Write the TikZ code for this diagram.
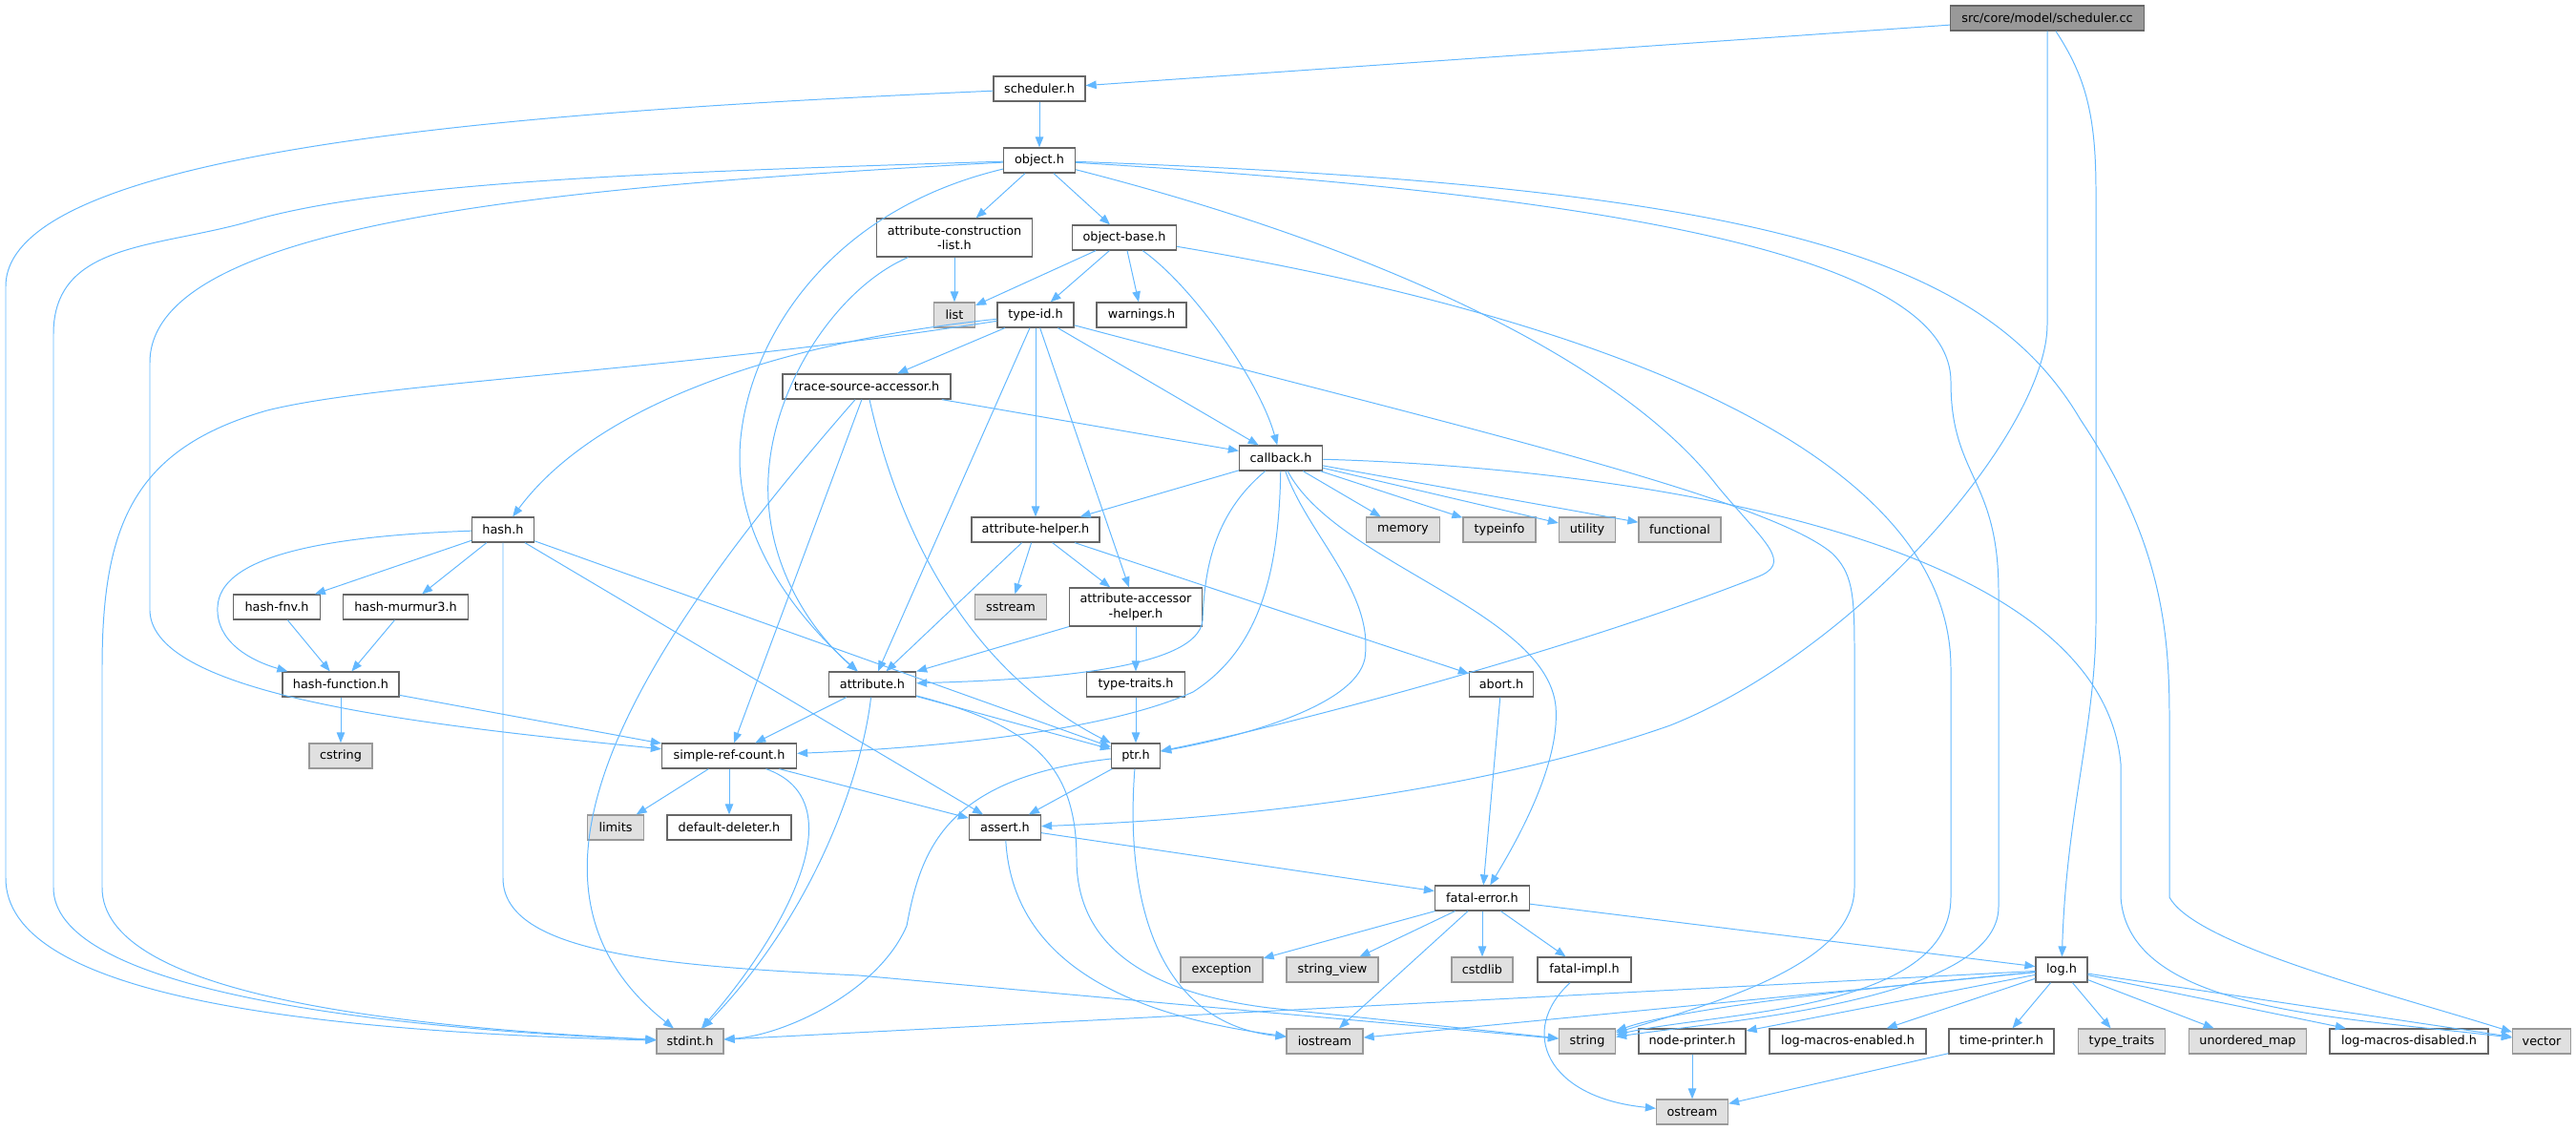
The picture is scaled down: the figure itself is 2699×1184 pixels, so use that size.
\documentclass[tikz,border=0pt]{standalone}
\usepackage{fontspec}
\setmainfont{DejaVu Sans}
\usetikzlibrary{arrows.meta}
\definecolor{linkblue}{HTML}{63B8FF}
\definecolor{boxline}{HTML}{666666}
\definecolor{sysline}{HTML}{999999}
\definecolor{sysfill}{HTML}{E0E0E0}
\definecolor{rootfill}{HTML}{999999}

\begin{document}
\begin{tikzpicture}[x=0.01cm, y=-0.01cm,
		hdr/.style={draw=boxline, fill=white, line width=0.35pt, inner sep=0pt, minimum height=0.26cm, align=center, font=\fontsize{3.65pt}{4.3pt}\selectfont},
		sys/.style={hdr, draw=sysline, fill=sysfill},
		rootbox/.style={hdr, fill=rootfill},
		tall/.style={minimum height=0.40cm},
		inc/.style={draw=linkblue, line width=0.28pt, -{Triangle[length=0.11cm, width=0.085cm]}}]
		\useasboundingbox (0,0) rectangle (2699,1184);

		\node[rootbox, minimum width=2.03cm] (root) at (2145,19) {src/core/model/scheduler.cc};
		\node[hdr, minimum width=0.96cm] (schedh) at (1089,93) {scheduler.h};
		\node[hdr, minimum width=0.75cm] (objecth) at (1089,168) {object.h};
		\node[hdr, tall, minimum width=1.63cm] (attrcons) at (1000,249) {attribute-construction\\-list.h};
		\node[hdr, minimum width=1.09cm] (objbase) at (1178,249) {object-base.h};
		\node[sys, minimum width=0.43cm] (list) at (1000,330) {list};
		\node[hdr, minimum width=0.80cm] (typeid) at (1085,330) {type-id.h};
		\node[hdr, minimum width=0.94cm] (warnings) at (1196,330) {warnings.h};
		\node[hdr, minimum width=1.76cm] (tracesrc) at (908,405) {trace-source-accessor.h};
		\node[hdr, minimum width=0.87cm] (callback) at (1342,480) {callback.h};
		\node[hdr, minimum width=0.65cm] (hash) at (527,555) {hash.h};
		\node[hdr, minimum width=1.34cm] (attrhelper) at (1085,555) {attribute-helper.h};
		\node[sys, minimum width=0.77cm] (memory) at (1470,555) {memory};
		\node[sys, minimum width=0.76cm] (typeinfo) at (1571,555) {typeinfo};
		\node[sys, minimum width=0.59cm] (utility) at (1663,555) {utility};
		\node[sys, minimum width=0.86cm] (functional) at (1760,555) {functional};
		\node[hdr, minimum width=0.91cm] (hashfnv) at (290,636) {hash-fnv.h};
		\node[hdr, minimum width=1.31cm] (murmur) at (425,636) {hash-murmur3.h};
		\node[sys, minimum width=0.75cm] (sstream) at (1059,636) {sstream};
		\node[hdr, tall, minimum width=1.39cm] (accessor) at (1190,636) {attribute-accessor\\-helper.h};
		\node[hdr, minimum width=1.22cm] (hashfunc) at (357,717) {hash-function.h};
		\node[hdr, minimum width=0.91cm] (attribute) at (914,717) {attribute.h};
		\node[hdr, minimum width=1.03cm] (typetraits) at (1190,717) {type-traits.h};
		\node[hdr, minimum width=0.67cm] (abort) at (1573,717) {abort.h};
		\node[sys, minimum width=0.66cm] (cstring) at (357,792) {cstring};
		\node[hdr, minimum width=1.41cm] (refcount) at (764,792) {simple-ref-count.h};
		\node[hdr, minimum width=0.51cm] (ptr) at (1190,792) {ptr.h};
		\node[sys, minimum width=0.59cm] (limits) at (645,867) {limits};
		\node[hdr, minimum width=1.30cm] (deleter) at (764,867) {default-deleter.h};
		\node[hdr, minimum width=0.75cm] (assert) at (1053,867) {assert.h};
		\node[hdr, minimum width=0.99cm] (fatal) at (1553,941) {fatal-error.h};
		\node[sys, minimum width=0.86cm] (exception) at (1280,1016) {exception};
		\node[sys, minimum width=0.96cm] (stringview) at (1396,1016) {string\_view};
		\node[sys, minimum width=0.64cm] (cstdlib) at (1553,1016) {cstdlib};
		\node[hdr, minimum width=0.98cm] (fatalimpl) at (1660,1016) {fatal-impl.h};
		\node[hdr, minimum width=0.54cm] (logh) at (2160,1016) {log.h};
		\node[sys, minimum width=0.70cm] (stdint) at (723,1091) {stdint.h};
		\node[sys, minimum width=0.80cm] (iostream) at (1388,1091) {iostream};
		\node[sys, minimum width=0.59cm] (string) at (1663,1091) {string};
		\node[hdr, minimum width=1.12cm] (nodeprinter) at (1773,1091) {node-printer.h};
		\node[hdr, minimum width=1.64cm] (macrosen) at (1936,1091) {log-macros-enabled.h};
		\node[hdr, minimum width=1.10cm] (timeprinter) at (2097,1091) {time-printer.h};
		\node[sys, minimum width=0.91cm] (stdtraits) at (2223,1091) {type\_traits};
		\node[sys, minimum width=1.23cm] (umap) at (2355,1091) {unordered\_map};
		\node[hdr, minimum width=1.66cm] (macrosdis) at (2524,1091) {log-macros-disabled.h};
		\node[sys, minimum width=0.61cm] (vector) at (2663,1091) {vector};
		\node[sys, minimum width=0.75cm] (ostream) at (1773,1165) {ostream};

		\draw[inc] (root) -- (schedh);
		\draw[inc] (root) -- (2145,340) .. controls (2145,450) and (1950,680) .. (1750,760) .. controls (1550,830) and (1300,858) .. (assert);
		\draw[inc] (root) .. controls (2185,80) and (2196,120) .. (2196,200) -- (2196,650) .. controls (2196,760) and (2165,850) .. (logh);

		\draw[inc] (schedh) -- (objecth);
		\draw[inc] (schedh) .. controls (600,115) and (6,150) .. (6,300) -- (6,920) .. controls (6,1040) and (300,1080) .. (stdint);

		\draw[inc] (objecth) -- (attrcons);
		\draw[inc] (objecth) -- (objbase);
		\draw[inc] (objecth) .. controls (700,180) and (400,190) .. (258,233) .. controls (160,260) and (56,255) .. (56,350) -- (56,930) .. controls (56,1030) and (350,1075) .. (stdint);
		\draw[inc] (objecth) .. controls (600,195) and (157,230) .. (157,380) -- (157,640) .. controls (160,730) and (450,760) .. (refcount);
		\draw[inc] (objecth) .. controls (850,225) and (775,380) .. (775,480) .. controls (775,580) and (850,660) .. (attribute);
		\draw[inc] (objecth) .. controls (1700,205) and (2044,270) .. (2044,400) .. controls (2044,500) and (2094,500) .. (2094,620) -- (2094,950) .. controls (2094,1050) and (1800,1070) .. (string);
		\draw[inc] (objecth) .. controls (1850,195) and (2080,270) .. (2180,440) .. controls (2260,560) and (2273,650) .. (2273,750) -- (2273,940) .. controls (2300,990) and (2500,1040) .. (vector);
		\draw[inc] (objecth) .. controls (1450,260) and (1700,380) .. (1800,510) .. controls (1850,570) and (1880,590) .. (1840,605) .. controls (1650,680) and (1350,760) .. (ptr);

		\draw[inc] (attrcons) .. controls (880,300) and (810,400) .. (805,500) .. controls (800,600) and (860,670) .. (attribute);
		\draw[inc] (attrcons) -- (list);

		\draw[inc] (objbase) -- (list);
		\draw[inc] (objbase) -- (typeid);
		\draw[inc] (objbase) -- (warnings);
		\draw[inc] (objbase) .. controls (1250,300) and (1320,400) .. (callback);
		\draw[inc] (objbase) .. controls (1600,320) and (2044,450) .. (2044,700) -- (2044,940) .. controls (2044,1060) and (1800,1060) .. (string);

		\draw[inc] (typeid) -- (tracesrc);
		\draw[inc] (typeid) .. controls (800,360) and (620,430) .. (hash);
		\draw[inc] (typeid) .. controls (700,390) and (400,400) .. (280,430) .. controls (140,470) and (107,550) .. (107,700) -- (107,930) .. controls (107,1040) and (400,1075) .. (stdint);
		\draw[inc] (typeid) -- (attribute);
		\draw[inc] (typeid) -- (attrhelper);
		\draw[inc] (typeid) -- (accessor);
		\draw[inc] (typeid) -- (callback);
		\draw[inc] (typeid) .. controls (1500,440) and (1850,520) .. (1920,580) .. controls (1940,600) and (1943,620) .. (1943,680) -- (1943,930) .. controls (1943,1010) and (1800,1050) .. (string);

		\draw[inc] (tracesrc) -- (callback);
		\draw[inc] (tracesrc) .. controls (940,550) and (1010,700) .. (ptr);
		\draw[inc] (tracesrc) -- (refcount);
		\draw[inc] (tracesrc) .. controls (650,700) and (520,930) .. (stdint);

		\draw[inc] (hash) -- (hashfnv);
		\draw[inc] (hash) -- (murmur);
		\draw[inc] (hash) .. controls (330,562) and (230,585) .. (228,636) .. controls (226,672) and (262,692) .. ([xshift=0.06cm]hashfunc.north west);
		\draw[inc] (hash) -- (assert);
		\draw[inc] (hash) -- (ptr);
		\draw[inc] (hash) -- (527,920) .. controls (527,1000) and (700,1012) .. (900,1022) -- (string);

		\draw[inc] (hashfnv) -- (hashfunc);
		\draw[inc] (murmur) -- (hashfunc);
		\draw[inc] (hashfunc) -- (cstring);
		\draw[inc] (hashfunc) -- (refcount);

		\draw[inc] (callback) -- (attrhelper);
		\draw[inc] (callback) .. controls (1270,540) and (1262,600) .. (1260,650) .. controls (1255,700) and (1100,712) .. (attribute);
		\draw[inc] (callback) .. controls (1340,600) and (1320,680) .. (1250,725) .. controls (1150,770) and (950,785) .. (refcount);
		\draw[inc] (callback) .. controls (1370,560) and (1440,620) .. (1430,690) .. controls (1420,740) and (1300,772) .. (ptr);
		\draw[inc] (callback) .. controls (1400,590) and (1620,640) .. (1630,740) .. controls (1635,800) and (1590,880) .. (fatal);
		\draw[inc] (callback) -- (memory);
		\draw[inc] (callback) -- (typeinfo);
		\draw[inc] (callback) -- (utility);
		\draw[inc] (callback) -- (functional);
		\draw[inc] (callback) .. controls (1700,490) and (2200,560) .. (2222,800) -- (2222,940) .. controls (2230,1060) and (2450,1065) .. (vector);

		\draw[inc] (attrhelper) -- (attribute);
		\draw[inc] (attrhelper) -- (sstream);
		\draw[inc] (attrhelper) -- (accessor);
		\draw[inc] (attrhelper) -- (abort);

		\draw[inc] (accessor) -- (attribute);
		\draw[inc] (accessor) -- (typetraits);
		\draw[inc] (typetraits) -- (ptr);

		\draw[inc] (attribute) -- (ptr);
		\draw[inc] (attribute) -- (refcount);
		\draw[inc] (attribute) .. controls (905,800) and (860,950) .. (stdint);
		\draw[inc] (attribute) .. controls (1080,760) and (1128,800) .. (1128,900) .. controls (1128,990) and (1200,1040) .. (1330,1056) -- (string);

		\draw[inc] (refcount) -- (limits);
		\draw[inc] (refcount) -- (deleter);
		\draw[inc] (refcount) -- (assert);
		\draw[inc] (refcount) .. controls (900,840) and (820,980) .. (stdint);

		\draw[inc] (ptr) -- (assert);
		\draw[inc] (ptr) .. controls (990,815) and (965,890) .. (950,970) .. controls (920,1040) and (820,1085) .. (stdint);
		\draw[inc] (ptr) .. controls (1180,920) and (1200,1070) .. (iostream);

		\draw[inc] (assert) -- (fatal);
		\draw[inc] (assert) .. controls (1060,990) and (1150,1060) .. (iostream);
		\draw[inc] (abort) -- (fatal);

		\draw[inc] (fatal) -- (exception);
		\draw[inc] (fatal) -- (stringview);
		\draw[inc] (fatal) -- (cstdlib);
		\draw[inc] (fatal) -- (fatalimpl);
		\draw[inc] (fatal) -- (iostream);
		\draw[inc] (fatal) -- (logh);

		\draw[inc] (fatalimpl) .. controls (1590,1080) and (1620,1150) .. (ostream);
		\draw[inc] (nodeprinter) -- (ostream);
		\draw[inc] (timeprinter) -- (ostream);

		\draw[inc] (logh) -- (stdint);
		\draw[inc] (logh) -- (iostream);
		\draw[inc] (logh) .. controls (1900,1040) and (1750,1060) .. (string);
		\draw[inc] (logh) -- (nodeprinter);
		\draw[inc] (logh) -- (macrosen);
		\draw[inc] (logh) -- (timeprinter);
		\draw[inc] (logh) -- (stdtraits);
		\draw[inc] (logh) -- (umap);
		\draw[inc] (logh) -- (macrosdis);
		\draw[inc] (logh) -- (vector);
	\end{tikzpicture}
\end{document}
